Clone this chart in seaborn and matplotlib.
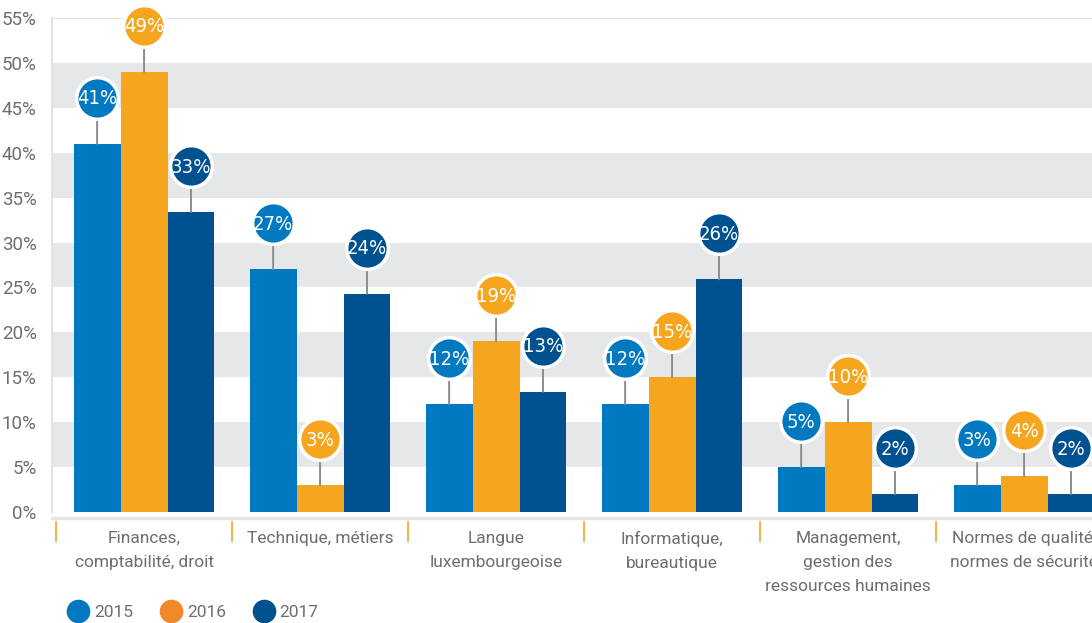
import matplotlib
matplotlib.use("Agg")
import matplotlib.pyplot as plt
import matplotlib.transforms as mtransforms
from matplotlib import font_manager
from matplotlib.lines import Line2D
import pandas as pd
import seaborn as sns

categories = [
    "Finances,\ncomptabilité, droit",
    "Technique, métiers",
    "Langue\nluxembourgeoise",
    "Informatique,\nbureautique",
    "Management,\ngestion des\nressources humaines",
    "Normes de qualité,\nnormes de sécurité",
]
years = ["2015", "2016", "2017"]
values_2015 = [41, 27, 12, 12, 5, 3]
values_2016 = [49, 3, 19, 15, 10, 4]
values_2017 = [33.4, 24.3, 13.4, 25.9, 2, 2]
y_ticks = [0, 5, 10, 15, 20, 25, 30, 35, 40, 45, 50, 55]

bar_colors = ["#0079c1", "#f6a51e", "#00518f"]
legend_colors = ["#0079c1", "#f1892a", "#00518f"]
grey_text = "#6d6e71"

df = pd.DataFrame({
    "category": categories * 3,
    "value": values_2015 + values_2016 + values_2017,
    "year": [y for y in years for _ in categories],
})

sns.set_style("white")
plt.rcParams["font.family"] = ["Roboto", "DejaVu Sans"]

# narrow face for the bubble labels, if one is installed
condensed = [f.name for f in font_manager.fontManager.ttflist
             if f.stretch in ("condensed", "semi-condensed") and f.style == "normal"]
if condensed:
    bubble_font = dict(family=[condensed[0], "DejaVu Sans"], fontstretch="condensed",
                       fontsize=14.5)
else:
    bubble_font = dict(family=["Roboto", "DejaVu Sans"], fontsize=13)

fig = plt.figure(figsize=(10.92, 6.23), dpi=100)
ax = fig.add_axes([52 / 1092, 1 - 512 / 623, 1 - 52 / 1092, 494 / 623])

sns.barplot(
    data=df, x="category", y="value", hue="year", palette=bar_colors,
    saturation=1, width=0.8, legend=False, ax=ax, zorder=2, linewidth=0,
)

# alternating grey bands
for lo in y_ticks[1:-1:2]:
    ax.axhspan(lo, lo + 5, color="#e6e7e8", zorder=0, lw=0)

ax.set_ylim(0, 55)
ax.set_xlim(-0.523, 5.386)
ax.set_yticks(y_ticks, [f"{t}%" for t in y_ticks])
ax.set_xticks([])
ax.set_xlabel("")
ax.set_ylabel("")
ax.tick_params(axis="y", length=0, pad=11, labelsize=13.5, labelcolor=grey_text)

ax.spines["right"].set_visible(False)
ax.spines["top"].set_color("#e3e3e3")
ax.spines["left"].set_color("#e3e3e3")
ax.spines["left"].set_linewidth(1.5)
ax.spines["bottom"].set_color("#e6e6e6")
ax.spines["bottom"].set_linewidth(2.5)
ax.spines["bottom"].set_position(("outward", 4))

# category labels and orange separators between categories
sep = mtransforms.blended_transform_factory(ax.transData, ax.transAxes)
for i, cat in enumerate(categories):
    ax.plot([i - 0.5, i - 0.5], [-0.021, -0.058], transform=sep,
            color="#f8b448", lw=1.5, clip_on=False)
    ax.text(i, -0.039, cat, transform=sep, ha="center", va="top",
            multialignment="center", linespacing=1.75, fontsize=12.5,
            color=grey_text, clip_on=False)

# value bubbles
circle_tr = mtransforms.offset_copy(ax.transData, fig=fig, y=46, units="dots")
for container, color in zip(ax.containers, bar_colors):
    for bar in container:
        x = bar.get_x() + bar.get_width() / 2
        h = bar.get_height()
        ax.annotate("", xy=(x, h), xytext=(0, 24), textcoords="offset pixels",
                    arrowprops=dict(arrowstyle="-", color="#8c8c8c", lw=1.4,
                                    shrinkA=0, shrinkB=0),
                    zorder=3, annotation_clip=False)
        ax.scatter([x], [h], s=900, color=color, edgecolor="white",
                   linewidth=2.5, transform=circle_tr, zorder=4, clip_on=False)
        ax.annotate(f"{round(h)}%", xy=(x, h), xytext=(0, 45),
                    textcoords="offset pixels", ha="center", va="center",
                    color="white", zorder=5, annotation_clip=False, **bubble_font)

handles = [Line2D([], [], marker="o", ls="", markersize=16, color=c)
           for c in legend_colors]
fig.legend(handles, years, loc="lower left", bbox_to_anchor=(0.048, -0.021),
           ncol=3, frameon=False, fontsize=12.5, handlelength=1.2,
           handletextpad=0.3, columnspacing=1.6, labelcolor=grey_text)

fig.savefig("out.png", dpi=100)
plt.close(fig)
